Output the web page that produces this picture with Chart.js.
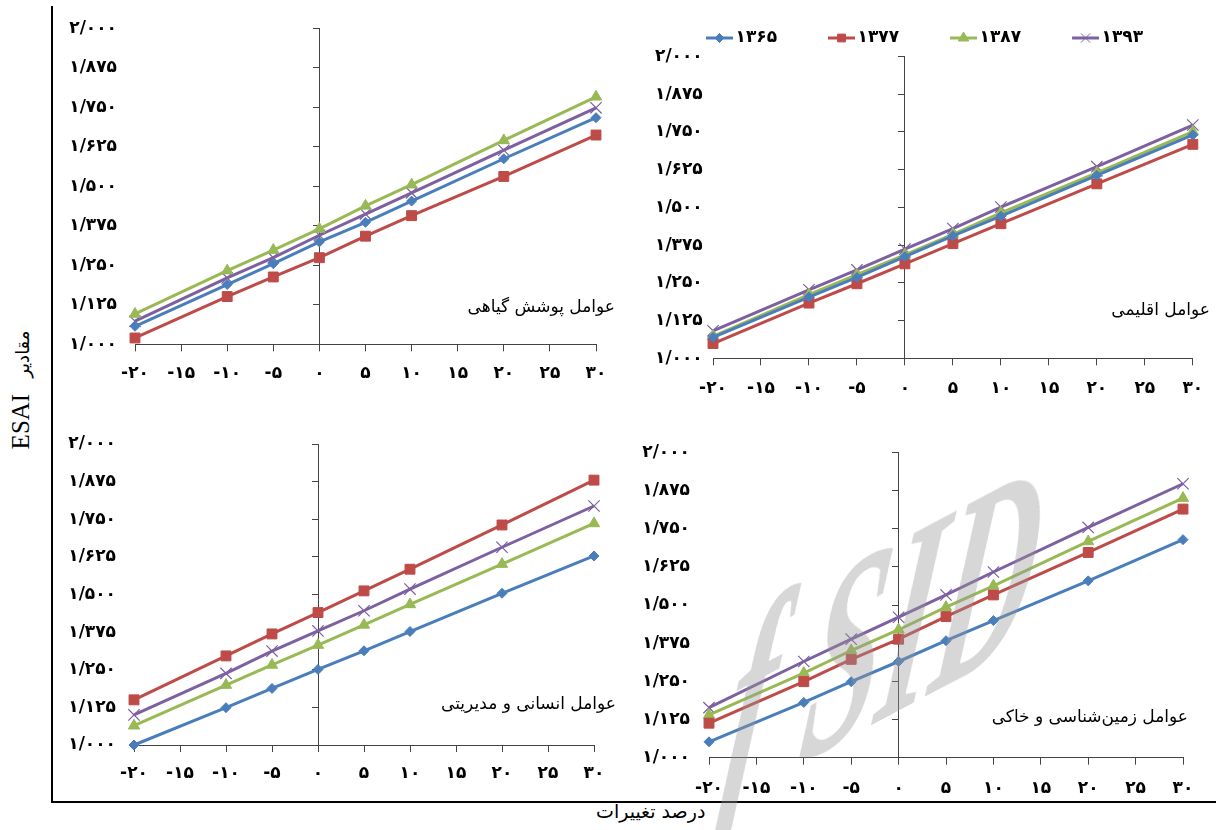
<!DOCTYPE html>
<html>
<head>
<meta charset="utf-8">
<script src="https://cdn.jsdelivr.net/npm/chart.js@4.4.1/dist/chart.umd.min.js"></script>
<style>
  html, body { margin: 0; padding: 0; background: #fff; }
  #wrap { position: relative; width: 1216px; height: 830px; overflow: hidden; background: #fff; }
  canvas { position: absolute; }
  .lbl { position: absolute; font-family: 'DejaVu Sans', sans-serif; font-size: 17px; color: #000; white-space: nowrap; direction: rtl; }
  #frameV { position: absolute; left: 51px; top: 6px; width: 2px; height: 797px; background: #000; }
  #frameH { position: absolute; left: 51px; top: 801px; width: 1165px; height: 2px; background: #000; }
  #ytitle { position: absolute; left: 20px; top: 390px; transform: translate(-50%, -50%) rotate(-90deg); white-space: nowrap; direction: rtl; color: #000; line-height: 1; }
  #ytitle .fa { font-family: 'DejaVu Sans', sans-serif; font-size: 18px; }
  #ytitle .en { font-family: 'Liberation Serif', serif; font-size: 25px; }
  #xtitle { position: absolute; left: 596px; top: 800px; font-family: 'DejaVu Sans', sans-serif; font-size: 19px; direction: rtl; white-space: nowrap; color: #000; }
  #wm { position: absolute; left: 750px; top: 574px; transform-origin: 0 0; transform: matrix(0.344,-0.183,-0.103,0.70,0,0);
        font-family: 'Liberation Serif', serif; font-weight: bold; font-style: italic; font-size: 400px; line-height: 1; color: rgba(150,150,150,0.38); white-space: pre; pointer-events: none; }
</style>
</head>
<body>
<div id="wrap">
  <div id="frameV"></div>
  <div id="frameH"></div>
  <canvas id="cTL" width="565" height="400" style="left:55px;top:0px"></canvas>
  <canvas id="cTR" width="626" height="410" style="left:590px;top:0px"></canvas>
  <canvas id="cBL" width="565" height="390" style="left:55px;top:410px"></canvas>
  <canvas id="cBR" width="596" height="390" style="left:620px;top:410px"></canvas>
  <div class="lbl" style="right:601px;top:296px">عوامل پوشش گیاهی</div>
  <div class="lbl" style="right:6px;top:299px">عوامل اقلیمی</div>
  <div class="lbl" style="right:600px;top:693px">عوامل انسانی و مدیریتی</div>
  <div class="lbl" style="right:28px;top:706px">عوامل زمین‌شناسی و خاکی</div>
  <div id="ytitle"><span class="fa">مقادیر</span>&nbsp;&nbsp;&nbsp;&nbsp;<span class="en">ESAI</span></div>
  <div id="xtitle">درصد تغییرات</div>
  <div id="wm">f SID</div>
</div>
<script>
// ---- data ----
const changePercent = [-20, -10, -5, 0, 5, 10, 20, 30];
const years = [1365, 1377, 1387, 1393];
const yTickMin = 1.0, yTickMax = 2.0, yTickStep = 0.125;
const xTickMin = -20, xTickMax = 30, xTickStep = 5;

// عوامل پوشش گیاهی
const vegetation1365 = [1.057, 1.189, 1.255, 1.324, 1.386, 1.453, 1.587, 1.717];
const vegetation1377 = [1.020, 1.151, 1.213, 1.274, 1.342, 1.407, 1.531, 1.662];
const vegetation1387 = [1.096, 1.233, 1.298, 1.365, 1.438, 1.505, 1.645, 1.783];
const vegetation1393 = [1.073, 1.210, 1.274, 1.345, 1.412, 1.479, 1.614, 1.748];
// عوامل اقلیمی
const climate1365 = [1.069, 1.203, 1.268, 1.337, 1.406, 1.471, 1.606, 1.740];
const climate1377 = [1.049, 1.183, 1.247, 1.313, 1.380, 1.446, 1.578, 1.709];
const climate1387 = [1.073, 1.211, 1.277, 1.343, 1.411, 1.482, 1.614, 1.751];
const climate1393 = [1.091, 1.227, 1.293, 1.362, 1.430, 1.501, 1.635, 1.773];
// عوامل انسانی و مدیریتی
const human1365 = [1.000, 1.124, 1.188, 1.251, 1.313, 1.377, 1.504, 1.628];
const human1377 = [1.150, 1.296, 1.369, 1.440, 1.512, 1.584, 1.731, 1.880];
const human1387 = [1.064, 1.199, 1.266, 1.332, 1.399, 1.467, 1.601, 1.736];
const human1393 = [1.100, 1.238, 1.312, 1.379, 1.446, 1.518, 1.657, 1.794];
// عوامل زمین‌شناسی و خاکی
const soil1365 = [1.052, 1.181, 1.249, 1.315, 1.383, 1.449, 1.579, 1.714];
const soil1377 = [1.113, 1.249, 1.322, 1.388, 1.462, 1.533, 1.672, 1.814];
const soil1387 = [1.140, 1.277, 1.351, 1.419, 1.493, 1.563, 1.708, 1.850];
const soil1393 = [1.164, 1.315, 1.388, 1.460, 1.533, 1.608, 1.754, 1.897];

// ---- styles ----
const FA = '۰۱۲۳۴۵۶۷۸۹';
const fa = s => String(s).replace(/[0-9]/g, d => FA[+d]);
const colors = ['#4A7EBB', '#BE4B48', '#98B954', '#7D60A0'];
const pStyles = ['rectRot', 'rect', 'triangle', 'crossRot'];
const pRadius = [5, 7, 6.5, 8];
const pBorder = [1, 1, 1, 1.2];
const tickFont = { family: 'DejaVu Sans', size: 17, weight: 'bold' };

function legendImage(i) {
  const c = document.createElement('canvas');
  c.width = 85; c.height = 16;
  const ctx = c.getContext('2d');
  ctx.strokeStyle = colors[i]; ctx.lineWidth = 3;
  ctx.beginPath(); ctx.moveTo(54, 8); ctx.lineTo(81, 8); ctx.stroke();
  ctx.fillStyle = colors[i]; ctx.strokeStyle = colors[i]; ctx.lineWidth = 1;
  const r = [4.5, 5.5, 6, 6.5][i];
  if (Chart.helpers && Chart.helpers.drawPoint) {
    Chart.helpers.drawPoint(ctx, { pointStyle: pStyles[i], radius: r, borderWidth: 1, rotation: 0 }, 67.5, 8);
  }
  return c;
}

function makeChart(id, series, cfg) {
  const datasets = series.map((arr, i) => ({
    label: fa(years[i]),
    data: changePercent.map((x, j) => ({ x: x, y: arr[j] })),
    borderColor: colors[i],
    backgroundColor: colors[i],
    borderWidth: 3,
    pointStyle: pStyles[i],
    pointRadius: pRadius[i],
    pointBorderWidth: pBorder[i],
    pointBackgroundColor: colors[i],
    pointBorderColor: colors[i],
    tension: 0,
    clip: false
  }));
  const legendImgs = cfg.legend ? years.map((y, i) => legendImage(i)) : [];
  return new Chart(document.getElementById(id), {
    type: 'line',
    data: { datasets: datasets },
    options: {
      responsive: false,
      animation: false,
      devicePixelRatio: 1,
      layout: { padding: cfg.padding },
      plugins: {
        tooltip: { enabled: false },
        legend: cfg.legend ? {
          display: true,
          position: 'top',
          align: 'start',
          labels: {
            usePointStyle: true,
            pointStyleWidth: 65,
            padding: 7,
            color: '#000',
            font: { family: 'DejaVu Sans', size: 17, weight: 'bold' },
            generateLabels: chart => chart.data.datasets.map((ds, i) => ({
              text: ds.label, pointStyle: legendImgs[i], fillStyle: ds.borderColor,
              strokeStyle: ds.borderColor, lineWidth: 0, hidden: false, datasetIndex: i,
              fontColor: '#000', rotation: 0
            }))
          }
        } : { display: false }
      },
      scales: {
        x: {
          type: 'linear', position: 'bottom', min: xTickMin, max: xTickMax,
          ticks: { stepSize: xTickStep, autoSkip: false, maxRotation: 0, color: '#000', font: tickFont, padding: cfg.xPad,
                   callback: v => v < 0 ? '-' + fa(-v) : fa(v) },
          grid: { drawOnChartArea: false, drawTicks: true, tickLength: 7, color: '#444', lineWidth: 1 },
          border: { display: true, color: '#444', width: 1 },
          afterFit: s => { s.height = cfg.xH; }
        },
        y: {
          type: 'linear', position: 'left', min: yTickMin, max: yTickMax,
          ticks: { stepSize: yTickStep, color: '#000', font: tickFont, padding: cfg.yPad,
                   crossAlign: cfg.yAlign || 'near',
                   callback: v => fa(Number(v).toFixed(3)).replace('.', '/') },
          grid: { display: false, drawTicks: false },
          border: { display: false },
          afterFit: s => { s.width = cfg.yW; }
        },
        y2: {
          type: 'linear', position: { x: 0 }, min: yTickMin, max: yTickMax,
          ticks: { display: false, stepSize: yTickStep },
          grid: { drawOnChartArea: false, drawTicks: true, tickLength: 6, color: '#444', lineWidth: 1 },
          border: { display: true, color: '#444', width: 1 }
        }
      }
    }
  });
}

makeChart('cTL', [vegetation1365, vegetation1377, vegetation1387, vegetation1393],
  { padding: { left: 0, right: 24, top: 21.7, bottom: 10.7 }, yW: 80, yPad: 18, xH: 45, xPad: 12 });
makeChart('cTR', [climate1365, climate1377, climate1387, climate1393],
  { padding: { left: 65, right: 23, top: 22.5, bottom: 6.7 }, yW: 58, yPad: 21, yAlign: 'far', xH: 45, xPad: 12.8, legend: true });
makeChart('cBL', [human1365, human1377, human1387, human1393],
  { padding: { left: 0, right: 26, top: 34, bottom: 10 }, yW: 79, yPad: 18, xH: 45, xPad: 11 });
makeChart('cBR', [soil1365, soil1377, soil1387, soil1393],
  { padding: { left: 0, right: 33, top: 42.3, bottom: 2.3 }, yW: 89, yPad: 19, xH: 40, xPad: 13.8 });
</script>
</body>
</html>
